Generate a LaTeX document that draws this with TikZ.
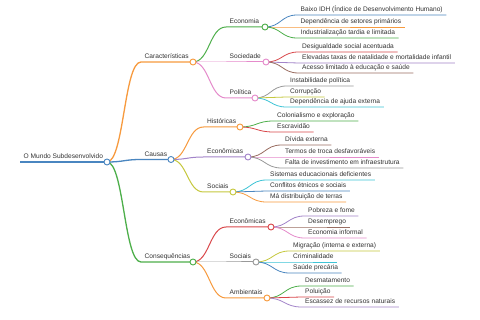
\documentclass[tikz,border=0pt]{standalone}
\usepackage{fontspec}
\setmainfont{Liberation Sans}
\usetikzlibrary{calc}
\definecolor{cblue}{HTML}{4A86C0}
\definecolor{corange}{HTML}{F79A3E}
\definecolor{cgreen}{HTML}{4DAF4A}
\definecolor{cred}{HTML}{D9474A}
\definecolor{cpurple}{HTML}{A283C9}
\definecolor{cbrown}{HTML}{9A6E62}
\definecolor{cpink}{HTML}{E58BCB}
\definecolor{cgray}{HTML}{999999}
\definecolor{colive}{HTML}{C6C83E}
\definecolor{ccyan}{HTML}{3EC4D6}
\definecolor{ctext}{HTML}{333333}
\tikzset{
  txt/.style={font=\fontsize{6.6}{8}\selectfont, text=ctext, inner xsep=3.5pt, inner ysep=0pt, anchor=base west},
  link/.style={to path={let \p1=(\tikztostart), \p2=(\tikztotarget) in
     .. controls ({0.5*\x1+0.5*\x2},\y1) and ({0.5*\x1+0.5*\x2},\y2) .. (\tikztotarget)}},
  lzero/.style={line width=1.6pt},
  lone/.style={line width=1.3pt},
  ltwo/.style={line width=1.0pt},
  lthree/.style={line width=0.8pt},
  dot/.style={circle, fill=white, inner sep=0pt, minimum size=6pt, line width=0.9pt},
}
% internal node: name, x0, y, x1, colour, line style, parent, text
\newcommand\mmnode[8]{%
  \coordinate (#1S) at (#2,#3);
  \coordinate (#1C) at (#4,#3);
  \draw[#6, #5] (#7) to[link] (#1S) -- (#1C);
  \node[txt] (#1) at (#2,#3-3) {#8};
}
% leaf: name, x0, y, colour, parent, text
\newcommand\mmleaf[6]{%
  \coordinate (#1S) at (#2,#3);
  \node[txt] (#1) at (#2,#3-3) {#6};
  \draw[lthree, #4] (#5) to[link] (#1S) -- (#1S -| #1.east);
}
\begin{document}
\begin{tikzpicture}[x=1pt,y=-1pt]
\fill[white] (0,0) rectangle (480,320);
\useasboundingbox (0,0) rectangle (480,320);
% root
\coordinate (rootS) at (20,162);
\coordinate (rootC) at (107,162);
\node[txt] (root) at (20,159) {O Mundo Subdesenvolvido};
\draw[lzero, cblue] (rootS) -- (rootC);
% level 1
\mmnode{car}{141}{62}{193}{corange}{lone}{rootC}{Características}
\mmnode{cau}{141}{159.5}{171}{cblue}{lone}{rootC}{Causas}
\mmnode{con}{141}{262}{193}{cgreen}{lone}{rootC}{Consequências}
% level 2
\mmnode{eco}{226}{27}{265}{cgreen}{ltwo}{carC}{Economia}
\mmnode{soc}{226}{62}{266}{cpink}{ltwo}{carC}{Sociedade}
\mmnode{pol}{226}{98}{255}{cpink}{ltwo}{carC}{Política}
\mmnode{his}{203.5}{127}{240}{corange}{ltwo}{cauC}{Históricas}
\mmnode{ecn}{203.5}{157}{248}{cpurple}{ltwo}{cauC}{Econômicas}
\mmnode{sci}{203.5}{192}{233}{colive}{ltwo}{cauC}{Sociais}
\mmnode{cec}{226}{227}{271}{cred}{ltwo}{conC}{Econômicas}
\mmnode{csc}{226}{262}{256}{cgray}{ltwo}{conC}{Sociais}
\mmnode{amb}{226}{298}{267}{corange}{ltwo}{conC}{Ambientais}
% leaves
\mmleaf{la}{297}{15}{cblue}{ecoC}{Baixo IDH (Índice de Desenvolvimento Humano)}
\mmleaf{lb}{297}{27}{corange}{ecoC}{Dependência de setores primários}
\mmleaf{lc}{297}{38}{cgreen}{ecoC}{Industrialização tardia e limitada}
\mmleaf{ld}{298.5}{52}{cred}{socC}{Desigualdade social acentuada}
\mmleaf{le}{298.5}{63}{cpurple}{socC}{Elevadas taxas de natalidade e mortalidade infantil}
\mmleaf{lf}{298.5}{73}{cbrown}{socC}{Acesso limitado à educação e saúde}
\mmleaf{lg}{286.5}{86}{cgray}{polC}{Instabilidade política}
\mmleaf{lh}{286.5}{97}{colive}{polC}{Corrupção}
\mmleaf{li}{286.5}{107}{ccyan}{polC}{Dependência de ajuda externa}
\mmleaf{lj}{273.5}{121}{cgreen}{hisC}{Colonialismo e exploração}
\mmleaf{lk}{273.5}{132}{cred}{hisC}{Escravidão}
\mmleaf{ll}{281.5}{145}{cbrown}{ecnC}{Dívida externa}
\mmleaf{lm}{281.5}{157}{cpink}{ecnC}{Termos de troca desfavoráveis}
\mmleaf{ln}{281.5}{168}{cgray}{ecnC}{Falta de investimento em infraestrutura}
\mmleaf{lo}{266.5}{180}{ccyan}{sciC}{Sistemas educacionais deficientes}
\mmleaf{lp}{266.5}{191}{cblue}{sciC}{Conflitos étnicos e sociais}
\mmleaf{lq}{266.5}{202}{corange}{sciC}{Má distribuição de terras}
\mmleaf{lr}{304.5}{216}{cpurple}{cecC}{Pobreza e fome}
\mmleaf{ls}{304.5}{227}{cbrown}{cecC}{Desemprego}
\mmleaf{lt}{304.5}{238}{cpink}{cecC}{Economia informal}
\mmleaf{lu}{289.5}{251}{colive}{cscC}{Migração (interna e externa)}
\mmleaf{lv}{289.5}{262}{ccyan}{cscC}{Criminalidade}
\mmleaf{lw}{289.5}{273}{cblue}{cscC}{Saúde precária}
\mmleaf{lx}{301.5}{286}{cgreen}{ambC}{Desmatamento}
\mmleaf{ly}{301.5}{297}{cred}{ambC}{Poluição}
\mmleaf{lz}{301.5}{307}{cpurple}{ambC}{Escassez de recursos naturais}
% circles on top
\node[dot, draw=cblue] (rootD) at (rootC) {};
\node[dot, draw=corange] (carD) at (carC) {};
\node[dot, draw=cblue] (cauD) at (cauC) {};
\node[dot, draw=cgreen] (conD) at (conC) {};
\node[dot, draw=cgreen] (ecoD) at (ecoC) {};
\node[dot, draw=cpink] (socD) at (socC) {};
\node[dot, draw=cpink] (polD) at (polC) {};
\node[dot, draw=corange] (hisD) at (hisC) {};
\node[dot, draw=cpurple] (ecnD) at (ecnC) {};
\node[dot, draw=colive] (sciD) at (sciC) {};
\node[dot, draw=cred] (cecD) at (cecC) {};
\node[dot, draw=cgray] (cscD) at (cscC) {};
\node[dot, draw=corange] (ambD) at (ambC) {};
\end{tikzpicture}
\end{document}
